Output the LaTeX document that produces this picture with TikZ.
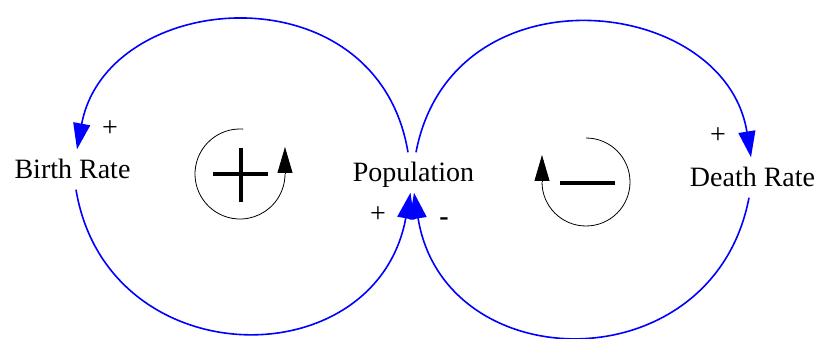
\documentclass[tikz,border=0pt]{standalone}
\usepackage{fontspec}
\setmainfont{Liberation Serif}
\usepackage{tikz}
\usetikzlibrary{arrows.meta}
\definecolor{linkblue}{HTML}{0000FF}
\tikzset{
  lnk/.style={-{Triangle[length=26pt,width=17pt]},line width=1.6pt,linkblue,looseness=1.45},
  lnkup/.style={lnk,in looseness=1.26},
  var/.style={font=\fontsize{28}{30}\selectfont,text height=19pt,text depth=0pt,inner xsep=2pt,inner ysep=10.5pt},
  pol/.style={font=\fontsize{28}{30}\selectfont,inner sep=0pt},
  loopline/.style={line width=0.8pt},
  looptip/.style={-{Triangle[length=26pt,width=15pt]},line width=0.8pt}
}

\begin{document}
\begin{tikzpicture}[x=1pt,y=1pt]
\useasboundingbox (0,0) rectangle (823,338);
% variables
\node[var] (birth) at (72.5,168.5) {Birth Rate};
\node[var] (pop) at (413.5,165.5) {Population};
\node[var] (death) at (752.5,160.5) {Death Rate};
% links
\draw[lnkup] ([xshift=-5.5pt]pop.north) to[bend right=80] ([xshift=4.5pt]birth.north);
\draw[lnk] ([xshift=3.5pt]birth.south) to[bend right=80] ([xshift=-3pt]pop.south);
\draw[lnkup] ([xshift=2.5pt]pop.north) to[bend left=80] ([xshift=-1.5pt]death.north);
\draw[lnk] ([xshift=-3.5pt]death.south) to[bend left=80] ([xshift=0.5pt]pop.south);
% polarities
\node[pol] (pbirth) at (110,209) {+};
\node[pol] (ppopl) at (378,123) {+};
\node[pol] (ppopr) at (444,116.5) {\bfseries -};
\node[pol] (pdeath) at (718,202) {+};
% loop markers
\coordinate (rl) at (240,164);
\coordinate (bl) at (586,156);
\draw[loopline] (rl) ++(86:45) arc[start angle=86,end angle=360,radius=45] coordinate (rlend);
\draw[looptip] (rlend) -- ++(0,27);
\draw[line width=3.3pt] (rl) ++(-27,0) -- ++(55,0);
\draw[line width=3.3pt] (rl) ++(1,-28) -- ++(0,54);
\draw[loopline] (bl) ++(90:44) arc[start angle=90,end angle=-180,radius=44] coordinate (blend);
\draw[looptip] (blend) -- ++(0,27);
\draw[line width=4pt] (bl) ++(-26,-1) -- ++(55,0);
\end{tikzpicture}
\end{document}
